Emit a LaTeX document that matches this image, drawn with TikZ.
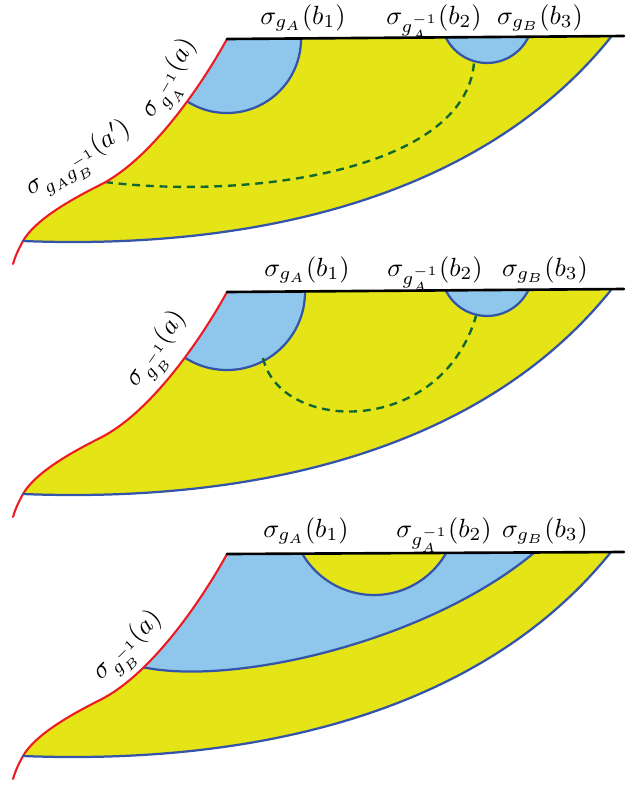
\documentclass[tikz,border=0pt]{standalone}
\definecolor{fieldyellow}{RGB}{228,228,22}
\definecolor{diskblue}{RGB}{143,198,235}
\definecolor{geoblue}{RGB}{52,84,170}
\definecolor{bdred}{RGB}{236,28,36}
\definecolor{trailgreen}{RGB}{16,104,48}

% boundary pieces shared by the three panels
\newcommand{\rimfull}{(227,39) .. controls (200,88) and (150,160) .. (100,185) .. controls (70,200) and (35,220) .. (23,241) .. controls (18,250) and (15,257) .. (13,264)}
\newcommand{\floorpath}{(23,241) .. controls (250,250) and (480,200) .. (611,37)}
\newcommand{\regionpath}{(227,39) .. controls (200,88) and (150,160) .. (100,185) .. controls (70,200) and (35,220) .. (23,241) .. controls (250,250) and (480,200) .. (611,37) -- cycle}

\begin{document}
\begin{tikzpicture}[x=0.38pt,y=-0.38pt,line cap=round,line join=round,
  rim/.style={draw=bdred,line width=0.8pt},
  geo/.style={draw=geoblue,line width=0.85pt},
  trail/.style={draw=trailgreen,line width=0.9pt,line cap=butt,dash pattern=on 3pt off 2.2pt},
  lab/.style={anchor=base,inner sep=0pt}]
\useasboundingbox (0,0) rectangle (624,785);

% first panel
\begin{scope}
\fill[fieldyellow] \regionpath;
\begin{scope}
\clip \regionpath;
\fill[diskblue] (227,39) circle[radius=74];
\draw[geo] (227,39) circle[radius=74];
\fill[diskblue] (487,17) circle[radius=46];
\draw[geo] (487,17) circle[radius=46];
\draw[trail] (105,182) .. controls (250,200) and (465,170) .. (474,63);
\end{scope}
\draw[rim] \rimfull;
\draw[geo] \floorpath;
\draw[line width=1pt] (227,39) -- (624,36);
\node[lab] (pAb1) at (303,24) {$\sigma_{g_A}(b_1)$};
\node[lab] (pAb2) at (434,24) {$\sigma_{g_A^{-1}}(b_2)$};
\node[lab] (pAb3) at (540,24) {$\sigma_{g_B}(b_3)$};
\node[rotate=60] (pAa) at (172,80) {$\sigma_{g_A^{-1}}(a)$};
\node[rotate=32] (pAap) at (80,162) {$\sigma_{g_Ag_B^{-1}}(a')$};
\end{scope}

% second panel
\begin{scope}[shift={(0,253)}]
\fill[fieldyellow] \regionpath;
\begin{scope}
\clip \regionpath;
\fill[diskblue] (227,39) circle[radius=78];
\draw[geo] (227,39) circle[radius=78];
\fill[diskblue] (487,17) circle[radius=46];
\draw[geo] (487,17) circle[radius=46];
\draw[trail] (263,105) .. controls (280,180) and (440,185) .. (476,63);
\end{scope}
\draw[rim] \rimfull;
\draw[geo] \floorpath;
\draw[line width=1pt] (227,39) -- (624,36);
\node[lab] (pBb1) at (307,23) {$\sigma_{g_A}(b_1)$};
\node[lab] (pBb2) at (435,23) {$\sigma_{g_A^{-1}}(b_2)$};
\node[lab] (pBb3) at (545,23) {$\sigma_{g_B}(b_3)$};
\node[rotate=55] (pBa) at (159,98) {$\sigma_{g_B^{-1}}(a)$};
\end{scope}

% third panel
\begin{scope}[shift={(0,515)}]
\fill[fieldyellow] \regionpath;
\begin{scope}
\clip \regionpath;
\fill[diskblue] (120,150) -- (147,153) .. controls (240,170) and (430,125) .. (535,37) -- (560,0) -- (0,0) -- (0,150) -- cycle;
\draw[geo] (120,150) -- (147,153) .. controls (240,170) and (430,125) .. (535,37) -- (545,29);
\fill[fieldyellow] (374,-3) circle[radius=83];
\draw[geo] (374,-3) circle[radius=83];
\end{scope}
\draw[rim] \rimfull;
\draw[geo] \floorpath;
\draw[line width=1pt] (227,39) -- (624,37);
\node[lab] (pCb1) at (306,22) {$\sigma_{g_A}(b_1)$};
\node[lab] (pCb2) at (444,22) {$\sigma_{g_A^{-1}}(b_2)$};
\node[lab] (pCb3) at (545,22) {$\sigma_{g_B}(b_3)$};
\node[rotate=45] (pCa) at (130,133) {$\sigma_{g_B^{-1}}(a)$};
\end{scope}

\end{tikzpicture}
\end{document}
